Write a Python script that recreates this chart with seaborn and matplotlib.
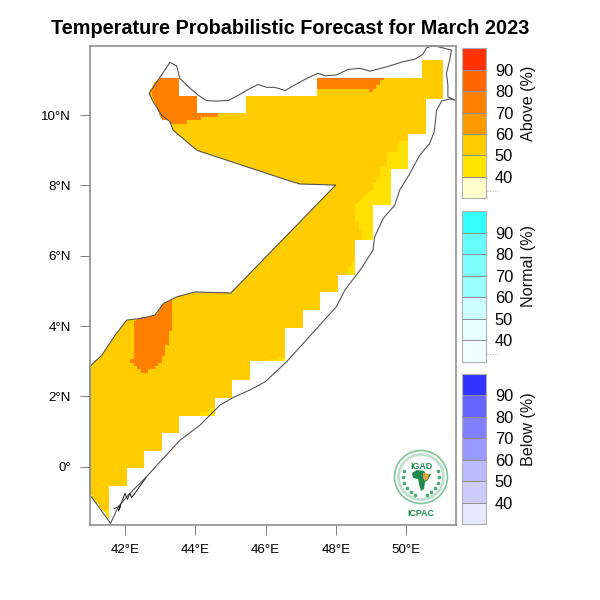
import numpy as np
import matplotlib
matplotlib.use("Agg")
import matplotlib.pyplot as plt
from matplotlib.colors import ListedColormap
from matplotlib.patches import Circle, Polygon
from matplotlib.path import Path
import seaborn as sns

# coastline and land border, lon/lat
coast_lon = [42.69, 43.28, 43.34, 43.47, 43.56, 43.80, 44.08, 44.32, 44.61, 44.95, 45.27, 45.50, 45.79,
             46.03, 46.26, 46.55, 46.78, 47.16, 47.49, 47.68, 48.01, 48.34, 48.68, 48.96, 49.43, 49.91,
             50.24, 50.47, 50.57, 50.76, 51.28, 51.23, 51.14, 51.18, 51.18, 51.38, 51.23, 51.00, 50.86,
             50.79, 50.66, 50.38, 50.10, 49.81, 49.67, 49.34, 49.10, 49.05, 48.72, 48.25, 48.01, 47.54,
             47.07, 46.59, 45.98, 45.55, 45.08, 44.70, 44.13, 43.56, 42.57, 42.09, 41.81, 41.59, 41.01,
             41.01, 41.34, 41.72, 42.05, 42.47, 42.85, 42.99, 43.09, 43.47, 43.99, 45.01, 47.99, 46.97,
             46.55, 44.04, 43.70, 43.37, 43.28, 43.04, 42.80, 42.69]
coast_lat = [10.62, 11.50, 11.47, 11.40, 11.04, 10.81, 10.57, 10.41, 10.40, 10.42, 10.59, 10.73, 10.87,
             10.79, 10.79, 10.70, 10.83, 11.04, 11.19, 11.12, 11.14, 11.30, 11.33, 11.25, 11.37, 11.52,
             11.59, 11.73, 11.91, 11.98, 11.85, 11.56, 11.19, 10.85, 10.52, 10.43, 10.46, 10.40, 10.14,
             9.52, 9.19, 8.86, 8.34, 7.87, 7.44, 7.06, 6.54, 6.16, 5.64, 5.02, 4.55, 4.03,
             3.51, 2.98, 2.41, 2.18, 1.97, 1.75, 1.18, 0.75, -0.33, -0.81, -1.14, -1.61, -0.81,
             2.86, 3.17, 3.74, 4.17, 4.22, 4.31, 4.50, 4.64, 4.83, 4.97, 4.94, 8.01, 8.04,
             8.17, 9.00, 9.29, 9.57, 9.81, 10.00, 10.38, 10.62]
islands_lon = [41.69, 41.88, 41.81, 42.00, 42.07, 42.14, 42.19, 42.60]
islands_lat = [-1.19, -1.12, -1.26, -0.76, -0.93, -0.76, -0.88, -0.31]

# areas of each forecast class
area_50 = [(42.85, 10.95), (43.02, 11.06), (43.56, 11.06), (43.56, 10.55), (44.05, 10.55), (44.05, 10.06),
           (45.46, 10.06), (45.46, 10.55), (47.45, 10.55), (47.45, 11.06), (50.46, 11.06), (50.46, 11.56),
           (51.05, 11.56), (51.05, 10.46), (50.55, 10.46), (50.55, 9.46), (50.05, 9.46), (50.05, 8.46),
           (49.55, 8.46), (49.55, 7.46), (49.05, 7.46), (49.05, 6.46), (48.55, 6.46), (48.55, 5.45),
           (48.05, 5.45), (48.05, 4.96), (47.55, 4.96), (47.55, 4.45), (47.05, 4.45), (47.05, 3.96),
           (46.55, 3.96), (46.55, 3.00), (45.55, 3.00), (45.55, 2.46), (45.05, 2.46), (45.05, 1.96),
           (44.55, 1.96), (44.55, 1.46), (43.55, 1.46), (43.55, 0.96), (43.05, 0.96), (43.05, 0.45),
           (42.55, 0.45), (42.55, -0.05), (42.05, -0.05), (42.05, -0.55), (41.55, -0.55), (41.55, -1.47),
           (41.02, -0.81), (41.02, 2.86), (41.34, 3.17), (41.72, 3.74), (42.05, 4.17), (42.47, 4.22),
           (42.85, 4.31), (42.99, 4.50), (43.09, 4.64), (43.47, 4.83), (43.99, 4.97), (45.01, 4.94),
           (47.99, 8.01), (46.97, 8.04), (46.55, 8.17), (44.04, 9.00), (43.70, 9.29), (43.37, 9.57),
           (43.28, 9.81), (43.04, 10.00), (42.80, 10.38), (42.69, 10.62)]
area_45 = [
    [(50.05, 9.26), (49.76, 9.26), (49.76, 8.96), (49.44, 8.96), (49.44, 8.56), (49.24, 8.56), (49.24, 8.24),
     (49.15, 8.24), (49.15, 8.07), (49.04, 8.07), (49.04, 7.87), (48.85, 7.74), (48.72, 7.63), (48.56, 7.44),
     (48.56, 6.96), (48.66, 6.96), (48.66, 6.73), (48.75, 6.73), (48.75, 6.46), (49.05, 6.46), (49.05, 7.46),
     (49.55, 7.46), (49.55, 8.46), (50.05, 8.46)],
    [(48.55, 5.85), (48.44, 5.85), (48.44, 5.67), (48.34, 5.67), (48.34, 5.45), (48.55, 5.45)],
    [(46.55, 3.14), (46.36, 3.14), (46.36, 3.05), (46.07, 3.05), (46.07, 3.00), (46.55, 3.00)],
    [(44.56, 1.66), (44.37, 1.66), (44.37, 1.56), (44.13, 1.56), (44.13, 1.46), (44.56, 1.46)],
    [(41.45, -1.21), (41.55, -1.21), (41.55, -1.47), (41.45, -1.40)],
]
area_60 = [
    [(43.02, 11.06), (43.56, 11.06), (43.56, 10.55), (44.05, 10.55), (44.05, 10.06), (44.65, 10.06),
     (44.65, 9.96), (44.16, 9.96), (44.16, 9.86), (43.75, 9.86), (43.75, 9.76), (43.28, 9.76), (43.28, 9.86),
     (43.06, 9.86), (42.97, 10.05), (42.85, 10.33), (42.76, 10.66), (42.85, 10.95)],
    [(47.45, 11.06), (49.36, 11.06), (49.36, 11.00), (49.24, 11.00), (49.24, 10.85), (49.15, 10.85),
     (49.15, 10.76), (49.05, 10.76), (49.05, 10.65), (48.96, 10.65), (48.96, 10.76), (47.45, 10.76)],
    [(42.26, 4.15), (42.47, 4.25), (42.85, 4.28), (42.99, 4.47), (43.07, 4.62), (43.36, 4.74), (43.36, 3.86),
     (43.26, 3.86), (43.26, 3.46), (43.16, 3.46), (43.16, 3.15), (43.06, 3.15), (43.06, 2.95), (42.96, 2.95),
     (42.96, 2.86), (42.85, 2.86), (42.85, 2.77), (42.66, 2.77), (42.66, 2.66), (42.45, 2.66), (42.45, 2.77),
     (42.36, 2.77), (42.36, 2.86), (42.26, 2.86), (42.26, 2.95), (42.16, 2.95), (42.16, 3.05), (42.26, 3.05)],
]

lon_ticks = [42, 44, 46, 48, 50]
lat_ticks = [0, 2, 4, 6, 8, 10]
lon_tick_labels = ["42°E", "44°E", "46°E", "48°E", "50°E"]
lat_tick_labels = ["0°", "2°N", "4°N", "6°N", "8°N", "10°N"]

levels = [90, 80, 70, 60, 50, 40]
above_colors = ["#FF3300", "#FF6600", "#FF8000", "#FF9900", "#FFCC00", "#FFE600", "#FFFFCC"]
normal_colors = ["#33FFFF", "#66FFFF", "#80FFFF", "#99FFFF", "#CCFFFF", "#E6FFFF", "#F0FFFF"]
below_colors = ["#3333FF", "#6666FF", "#8080FF", "#9999FF", "#BBBBFF", "#CCCCFF", "#E6E6FF"]

lon0, lon1 = 41.0, 51.42
lat0, lat1 = -1.65, 11.98
step = 0.025

sns.set_theme(style="white")
plt.rcParams["font.family"] = ["Liberation Sans", "DejaVu Sans"]


def px_axes(fig, left, top, right, bottom):
    return fig.add_axes([left / 600, 1 - bottom / 600, (right - left) / 600, (bottom - top) / 600])


nx = int(round((lon1 - lon0) / step))
ny = int(round((lat1 - lat0) / step))
lon_c = lon0 + (np.arange(nx) + 0.5) * step
lat_c = lat1 - (np.arange(ny) + 0.5) * step
xx, yy = np.meshgrid(lon_c, lat_c)
points = np.column_stack([xx.ravel(), yy.ravel()])

field = np.full(xx.shape, np.nan)
for value, polys in [(0, [area_50]), (1, area_45), (2, area_60)]:
    for poly in polys:
        inside = Path(poly + [poly[0]]).contains_points(points).reshape(xx.shape)
        field[inside] = value

fig = plt.figure(figsize=(6, 6), dpi=100)
ax = px_axes(fig, 89.8, 45.5, 456.5, 524.5)
sns.heatmap(field, ax=ax, cmap=ListedColormap(["#FFCC00", "#FFE000", "#FF8000"]), vmin=-0.5, vmax=2.5,
            cbar=False, xticklabels=False, yticklabels=False)
ax.plot((np.array(coast_lon) - lon0) / step, (lat1 - np.array(coast_lat)) / step,
        color="#555555", lw=0.8, clip_on=False)
ax.plot((np.array(islands_lon) - lon0) / step, (lat1 - np.array(islands_lat)) / step,
        color="#222222", lw=0.7)
ax.set_xticks([(v - lon0) / step for v in lon_ticks])
ax.set_xticklabels(lon_tick_labels, rotation=0)
ax.set_yticks([(lat1 - v) / step for v in lat_ticks])
ax.set_yticklabels(lat_tick_labels, rotation=0)
ax.tick_params(length=7.2, width=0.7, color="#808080", labelsize=9.6, labelcolor="black", pad=6.5,
               bottom=True, left=True)
for spine in ax.spines.values():
    spine.set_visible(True)
    spine.set_color("#909090")
    spine.set_linewidth(1.2)

fig.text(290 / 600, 1 - 29 / 600, "Temperature Probabilistic Forecast for March 2023",
         ha="center", va="center", fontsize=14.35, fontweight="bold", color="black")

# the three legend bars
bars = [("Above (%)", above_colors, 48.3, 198.3, 528, 103, True),
        ("Normal (%)", normal_colors, 211, 361.7, 528, 266, True),
        ("Below (%)", below_colors, 374, 524.3, 528, 429, False)]
for label, colors, top, bottom, xlab, ylab, has_mark in bars:
    bar = px_axes(fig, 462.3, top, 486, bottom)
    cells = np.arange(len(colors))[::-1].reshape(-1, 1)
    sns.heatmap(cells, ax=bar, cmap=ListedColormap(colors[::-1]), cbar=False, linewidths=0.4,
                linecolor="#909090", xticklabels=False, yticklabels=False)
    bar.set_yticks(np.arange(1, 7))
    bar.set_yticklabels(levels, rotation=0)
    bar.yaxis.tick_right()
    bar.tick_params(length=0, labelsize=11.8, pad=6.3, labelcolor="black")
    for spine in bar.spines.values():
        spine.set_visible(True)
        spine.set_color("#b0b0b0")
        spine.set_linewidth(0.8)
    if has_mark:
        bar.plot([1.03, 1.5], [6.66, 6.66], color="#b5b5b5", lw=0.7, ls=":", clip_on=False)
    fig.text(xlab / 600, 1 - ylab / 600, label, rotation=90, ha="center", va="center", fontsize=11.6,
             color="#111111")

# IGAD / ICPAC emblem
logo = px_axes(fig, 391, 445, 451, 520)
logo.set_xlim(-30, 30)
logo.set_ylim(43, -32)
logo.axis("off")
green = "#1E8A50"
logo.add_patch(Circle((0, 0), 26.5, fc="white", ec="#7FC49B", lw=1.2))
logo.add_patch(Circle((0, 0), 22.5, fc="white", ec="#BFE0CC", lw=2.0))
logo.add_patch(Polygon([(-9, -4), (-4, -7), (3, -6), (5, -3), (10, -3), (7, 3), (4, 5), (3, 12), (0, 14),
                        (-2, 7), (-3, 2), (-8, 1)], fc=green, ec="none"))
logo.add_patch(Polygon([(2, -4), (8, -3), (7, 2), (4, 4), (2, 1)], fc="#E8A33D", ec="none"))
wreath_x = [-17, -18, -17, -14, -10, -6, 17, 18, 17, 14, 10, 6]
wreath_y = [-6, 0, 6, 11, 15, 18, -6, 0, 6, 11, 15, 18]
logo.scatter(wreath_x, wreath_y, s=7, color="#4EA873", marker="o", linewidths=0)
logo.text(0, -10.5, "IGAD", ha="center", va="center", fontsize=6.4, fontweight="bold", color=green)
logo.text(0, 36.5, "ICPAC", ha="center", va="center", fontsize=6.3, fontweight="bold", color=green)

fig.savefig("out.png", dpi=100)
